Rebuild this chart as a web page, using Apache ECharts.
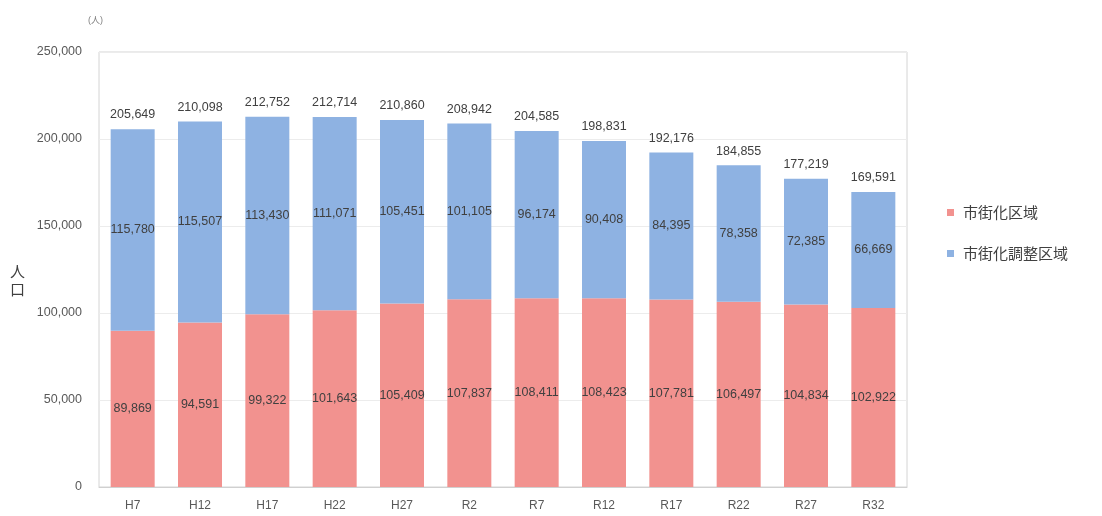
<!DOCTYPE html>
<html><head><meta charset="utf-8">
<script src="https://cdn.jsdelivr.net/npm/echarts@6/dist/echarts.min.js"></script>
<style>html,body{margin:0;padding:0;background:#fff}#c{width:1102px;height:516px}</style>
</head><body><div id="c"></div>
<script>
const categories = ['H7','H12','H17','H22','H27','R2','R7','R12','R17','R22','R27','R32'];
const urbanArea = [89869,94591,99322,101643,105409,107837,108411,108423,107781,106497,104834,102922];
const controlArea = [115780,115507,113430,111071,105451,101105,96174,90408,84395,78358,72385,66669];
const totals = [205649,210098,212752,212714,210860,208942,204585,198831,192176,184855,177219,169591];
const seriesNames = ['市街化区域','市街化調整区域'];
const yTicks = [0,50000,100000,150000,200000,250000];

const fmt = v => Number(v).toLocaleString('en-US');
const font = "'Liberation Sans','Noto Sans CJK JP',sans-serif";
const chart = echarts.init(document.getElementById('c'), null, {renderer:'canvas'});
chart.setOption({
  animation:false,
  backgroundColor:'#fff',
  textStyle:{fontFamily:font},
  grid:{left:99,right:195,top:52,bottom:29,show:true,borderColor:'#d4d4d4',borderWidth:1,containLabel:false},
  legend:{
    data:seriesNames, orient:'vertical', left:942, top:200, itemGap:26,
    itemWidth:7, itemHeight:7, icon:'rect',
    textStyle:{fontSize:15,color:'#404040',padding:[0,0,0,4],fontFamily:"'Noto Sans CJK JP',sans-serif"}
  },
  xAxis:{
    type:'category', data:categories,
    axisLine:{lineStyle:{color:'#d0d0d0'}}, axisTick:{show:false},
    axisLabel:{color:'#595959',fontSize:12,margin:13}
  },
  yAxis:{
    type:'value', min:yTicks[0], max:yTicks[yTicks.length-1], interval:50000,
    axisLine:{show:false}, axisTick:{show:false},
    splitLine:{lineStyle:{color:'#ececec'}},
    axisLabel:{color:'#595959',fontSize:12.5,margin:17,formatter:v=>fmt(v)}
  },
  graphic:[
    {type:'text',left:88,top:16,style:{text:'(人)',fontSize:9,fill:'#7f7f7f',fontFamily:font}},
    {type:'text',left:10,top:262,style:{text:'人\n口',fontSize:15,lineHeight:18,fill:'#404040',fontFamily:"'Noto Sans CJK JP',sans-serif"}}
  ],
  series:[
    {name:seriesNames[0],type:'bar',stack:'t',data:urbanArea,barWidth:44,
     itemStyle:{color:'#f2928f'},
     label:{show:true,position:'inside',color:'#404040',fontSize:12.5,formatter:p=>fmt(p.value)}},
    {name:seriesNames[1],type:'bar',stack:'t',data:controlArea,barWidth:44,
     itemStyle:{color:'#8eb2e2'},
     label:{show:true,position:'inside',color:'#404040',fontSize:12.5,formatter:p=>fmt(p.value)}},
    {name:'合計',type:'bar',stack:'t',data:totals.map(()=>0),barWidth:44,
     itemStyle:{color:'transparent'},
     label:{show:true,position:'top',distance:8,color:'#404040',fontSize:12.5,formatter:p=>fmt(totals[p.dataIndex])}}
  ]
});
</script></body></html>
